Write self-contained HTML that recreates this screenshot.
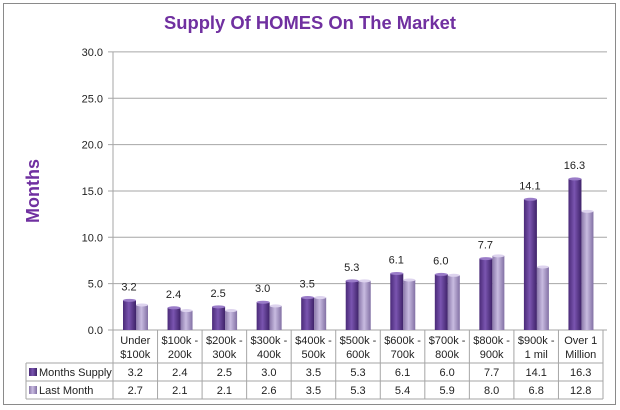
<!DOCTYPE html>
<html><head><meta charset="utf-8"><style>
html,body{margin:0;padding:0;background:#fff;}
svg{display:block;font-family:"Liberation Sans",Arial,sans-serif;}
</style></head><body>
<svg id="c" width="620" height="410" viewBox="0 0 620 410" xmlns="http://www.w3.org/2000/svg">
<defs>
<linearGradient id="g1" x1="0" x2="1" y1="0" y2="0">
<stop offset="0" stop-color="#4a2a78"/><stop offset="0.45" stop-color="#7a55b0"/><stop offset="1" stop-color="#3e2268"/>
</linearGradient>
<linearGradient id="g2" x1="0" x2="1" y1="0" y2="0">
<stop offset="0" stop-color="#8a78aa"/><stop offset="0.45" stop-color="#c8bbe0"/><stop offset="1" stop-color="#8270a4"/>
</linearGradient>
</defs>
<rect x="3.5" y="3.5" width="612" height="401" fill="#fff" stroke="#8a8a8a"/>
<text x="310" y="29" text-anchor="middle" font-size="18" font-weight="bold" fill="#7030a0" textLength="292" lengthAdjust="spacingAndGlyphs">Supply Of HOMES On The Market</text>
<text transform="translate(39,191) rotate(-90)" text-anchor="middle" font-size="18" font-weight="bold" fill="#7030a0">Months</text>
<g id="grid"></g>
</svg>
<script>
var s=document.getElementById('grid'),ns='http://www.w3.org/2000/svg';
function el(t,a,txt){var e=document.createElementNS(ns,t);for(var k in a)e.setAttribute(k,a[k]);if(txt!=null)e.textContent=txt;s.appendChild(e);return e;}
var L=113,R=603,Y0=330,sc=9.27,cw=(R-L)/11;
for(var v=0;v<=30;v+=5){var y=Y0-v*sc;el('line',{x1:108,x2:607,y1:y,y2:y,stroke:'#a6a6a6','stroke-width':1});el('text',{x:103,y:y+4,'text-anchor':'end','font-size':11,fill:'#222'},v.toFixed(1));}
el('line',{x1:L,x2:L,y1:52,y2:399,stroke:'#a6a6a6'});
var a=[3.2,2.4,2.5,3.0,3.5,5.3,6.1,6.0,7.7,14.1,16.3],b=[2.7,2.1,2.1,2.6,3.5,5.3,5.4,5.9,8.0,6.8,12.8];
var c1=['Under','$100k -','$200k -','$300k -','$400k -','$500k -','$600k -','$700k -','$800k -','$900k -','Over 1'],c2=['$100k','200k','300k','400k','500k','600k','700k','800k','900k','1 mil','Million'];
for(var i=0;i<11;i++){var x0=L+i*cw;
var h1=a[i]*sc,h2=b[i]*sc;
el('rect',{x:x0+10,y:Y0-h1,width:13,height:h1,fill:'url(#g1)'});
el('ellipse',{cx:x0+16.5,cy:Y0-h1,rx:6.5,ry:1.5,fill:'#9a7cc8'});
el('rect',{x:x0+23,y:Y0-h2,width:12,height:h2,fill:'url(#g2)'});
el('ellipse',{cx:x0+29,cy:Y0-h2,rx:6,ry:1.5,fill:'#ddd3ee'});
el('text',{x:x0+16,y:Y0-h1-10,'text-anchor':'middle','font-size':11,fill:'#222'},a[i].toFixed(1));
var cx=x0+cw/2;
el('text',{x:cx,y:344,'text-anchor':'middle','font-size':11,fill:'#222'},c1[i]);
el('text',{x:cx,y:358,'text-anchor':'middle','font-size':11,fill:'#222'},c2[i]);
el('text',{x:cx,y:376,'text-anchor':'middle','font-size':11,fill:'#222'},a[i].toFixed(1));
el('text',{x:cx,y:394,'text-anchor':'middle','font-size':11,fill:'#222'},b[i].toFixed(1));
el('line',{x1:x0+cw,x2:x0+cw,y1:330,y2:399,stroke:'#a6a6a6'});
}
el('line',{x1:26,x2:R,y1:363,y2:363,stroke:'#a6a6a6'});
el('line',{x1:26,x2:R,y1:381,y2:381,stroke:'#a6a6a6'});
el('line',{x1:26,x2:R,y1:399,y2:399,stroke:'#a6a6a6'});
el('line',{x1:26,x2:26,y1:363,y2:399,stroke:'#a6a6a6'});
el('rect',{x:29,y:368,width:8,height:8,fill:'url(#g1)'});
el('rect',{x:29,y:386,width:8,height:8,fill:'url(#g2)'});
el('text',{x:39,y:376,'font-size':11,fill:'#222'},'Months Supply');
el('text',{x:39,y:394,'font-size':11,fill:'#222'},'Last Month');
</script>
</body></html>
